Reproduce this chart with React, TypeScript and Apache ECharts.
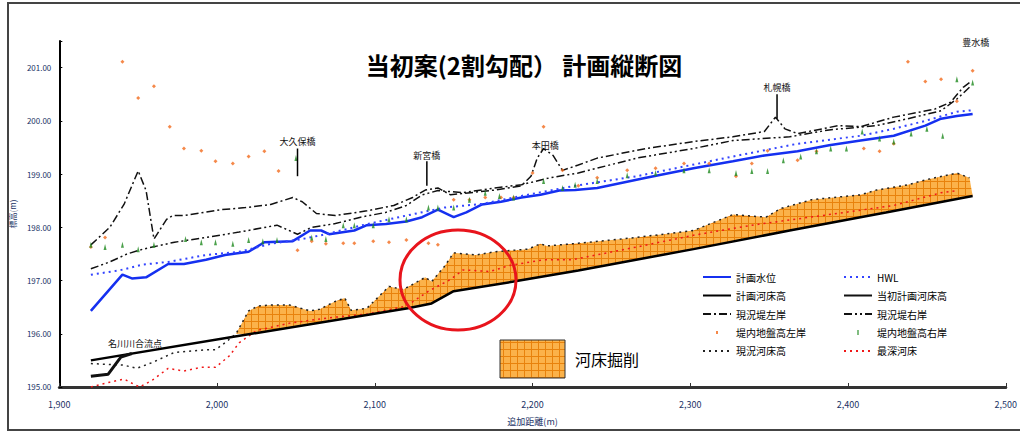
import React, { useEffect, useRef } from "react";
import * as echarts from "echarts";

// ---- Data (station m, elevation m) ----
const xTickMin = 1900;
const xTickMax = 2500;
const yTickMin = 195;
const yTickMax = 201.5;

const planWater = [
  [1920, 196.43], [1940, 197.11], [1946, 197.04], [1955, 197.06], [1969, 197.31], [1979, 197.31],
  [1993, 197.39], [2005, 197.48], [2020, 197.54], [2030, 197.72], [2048, 197.74], [2059, 197.94],
  [2066, 197.94], [2071, 197.87], [2087, 197.94], [2095, 198.04], [2107, 198.06], [2120, 198.11],
  [2130, 198.19], [2140, 198.33], [2150, 198.19], [2158, 198.28], [2168, 198.43], [2180, 198.48],
  [2193, 198.56], [2205, 198.61], [2217, 198.69], [2227, 198.7], [2241, 198.74], [2272, 198.93],
  [2302, 199.11], [2327, 199.24], [2347, 199.35], [2368, 199.43], [2388, 199.54], [2408, 199.63],
  [2429, 199.72], [2449, 199.91], [2459, 200.04], [2469, 200.09], [2479, 200.13],
];

const hwl = [
  [1920, 197.11], [1938, 197.19], [1953, 197.3], [1969, 197.35], [1993, 197.48], [2014, 197.54],
  [2034, 197.69], [2054, 197.78], [2069, 197.87], [2095, 198.06], [2120, 198.22], [2144, 198.37],
  [2168, 198.44], [2193, 198.59], [2227, 198.78], [2266, 198.96], [2327, 199.33], [2368, 199.57],
  [2408, 199.72], [2429, 199.85], [2449, 200.0], [2469, 200.17], [2479, 200.2],
];

const planBed = [
  [1920, 195.5], [2020, 195.99], [2121, 196.48], [2136, 196.57], [2150, 196.8], [2188, 196.98],
  [2229, 197.19], [2302, 197.59], [2363, 197.94], [2424, 198.28], [2479, 198.59],
];

const initialPlanBed = [
  [1920, 195.2], [1931, 195.24], [1939, 195.56], [1946, 195.63],
];

const currentBed = [
  [1920, 195.44], [1941, 195.41], [1949, 195.35], [1959, 195.46], [1973, 195.65], [1993, 195.7],
  [1999, 195.7], [2005, 195.83], [2012, 196.0], [2020, 196.43], [2026, 196.52], [2034, 196.54],
  [2046, 196.54], [2059, 196.43], [2065, 196.46], [2075, 196.61], [2081, 196.67], [2085, 196.44],
  [2095, 196.48], [2109, 196.89], [2118, 196.83], [2132, 197.06], [2136, 196.98], [2144, 197.26],
  [2150, 197.52], [2164, 197.48], [2176, 197.54], [2197, 197.59], [2205, 197.69], [2209, 197.65],
  [2229, 197.7], [2266, 197.81], [2302, 197.94], [2327, 198.24], [2348, 198.19], [2357, 198.35],
  [2377, 198.52], [2408, 198.61], [2418, 198.7], [2438, 198.8], [2449, 198.89], [2469, 199.02],
  [2477, 198.93],
];

const deepestBed = [
  [1920, 195.0], [1932, 195.09], [1941, 195.15], [1948, 195.04], [1951, 195.0], [1959, 195.13],
  [1969, 195.35], [1979, 195.3], [1990, 195.37], [1999, 195.37], [2008, 195.59], [2014, 195.83],
  [2025, 196.06], [2046, 196.2], [2071, 196.3], [2095, 196.37], [2120, 196.52], [2134, 196.8],
  [2148, 197.02], [2156, 197.2], [2173, 197.17], [2185, 197.28], [2207, 197.39], [2225, 197.39],
  [2266, 197.63], [2302, 197.85], [2339, 198.04], [2398, 198.28], [2429, 198.41], [2459, 198.65],
  [2469, 198.69],
];

const leftBank = [
  [1920, 197.67], [1932, 198.0], [1941, 198.43], [1950, 199.06], [1955, 198.69], [1960, 197.78],
  [1968, 198.15], [1972, 198.22], [1979, 198.22], [2002, 198.33], [2018, 198.37], [2034, 198.43],
  [2048, 198.56], [2054, 198.48], [2063, 198.26], [2075, 198.22], [2095, 198.31], [2112, 198.41],
  [2124, 198.56], [2132, 198.7], [2140, 198.74], [2148, 198.61], [2176, 198.7], [2193, 198.78],
  [2199, 198.96], [2203, 199.3], [2207, 199.48], [2213, 199.35], [2219, 199.07], [2229, 199.17],
  [2241, 199.3], [2272, 199.48], [2302, 199.61], [2327, 199.7], [2347, 199.8], [2354, 200.07],
  [2360, 199.85], [2368, 199.76], [2394, 199.91], [2408, 199.89], [2429, 200.07], [2455, 200.22],
  [2465, 200.35], [2473, 200.63], [2478, 200.74],
];

const rightBank = [
  [1920, 197.22], [1932, 197.35], [1943, 197.5], [1953, 197.59], [1973, 197.72], [1993, 197.81],
  [2014, 197.91], [2038, 198.04], [2051, 197.87], [2060, 198.0], [2075, 198.07], [2091, 198.19],
  [2107, 198.28], [2120, 198.41], [2130, 198.61], [2140, 198.69], [2156, 198.65], [2176, 198.74],
  [2193, 198.8], [2211, 198.93], [2229, 199.02], [2266, 199.3], [2302, 199.48], [2327, 199.63],
  [2363, 199.7], [2388, 199.83], [2418, 199.91], [2438, 200.04], [2459, 200.19], [2469, 200.41],
  [2477, 200.63],
];

const leftGround = [
  [1920, 197.63], [1929, 197.81], [1940, 201.11], [1950, 200.43], [1960, 200.65], [1970, 199.89],
  [1979, 199.48], [1990, 199.44], [1999, 199.24], [2010, 199.2], [2020, 199.33], [2030, 199.43],
  [2039, 199.06], [2051, 197.57], [2060, 197.74], [2069, 197.69], [2080, 197.7], [2087, 197.7],
  [2099, 197.74], [2109, 197.72], [2120, 197.76], [2134, 197.7], [2140, 197.67], [2150, 198.52],
  [2160, 198.52], [2170, 198.56], [2180, 198.56], [2188, 198.56], [2200, 199.02], [2207, 199.89],
  [2219, 199.07], [2229, 198.78], [2241, 198.93], [2260, 199.07], [2278, 199.11], [2296, 199.2],
  [2312, 199.2], [2329, 198.96], [2339, 199.2], [2349, 199.44], [2368, 199.26], [2380, 199.43],
  [2410, 199.48], [2420, 199.43], [2429, 199.57], [2438, 201.11], [2449, 200.74], [2459, 200.78],
  [2469, 200.37], [2479, 200.94],
];

const rightGround = [
  [1920, 197.67], [1929, 197.63], [1940, 197.67], [1950, 197.59], [1960, 197.67], [1980, 197.78],
  [1990, 197.72], [1999, 197.72], [2010, 197.69], [2020, 197.76], [2029, 197.74], [2038, 197.76],
  [2050, 199.3], [2060, 197.81], [2069, 197.78], [2080, 198.04], [2087, 198.04], [2099, 198.04],
  [2109, 198.15], [2120, 198.15], [2134, 198.37], [2140, 198.37], [2150, 198.37], [2160, 198.52],
  [2170, 198.65], [2179, 198.59], [2188, 198.56], [2207, 198.87], [2219, 198.74], [2227, 198.8],
  [2241, 198.87], [2260, 198.98], [2278, 199.02], [2296, 199.07], [2312, 199.07], [2329, 199.02],
  [2339, 199.06], [2349, 199.06], [2359, 199.26], [2370, 199.33], [2380, 199.43], [2389, 199.48],
  [2399, 199.48], [2409, 199.8], [2420, 199.67], [2429, 199.61], [2440, 199.76], [2450, 199.85],
  [2460, 199.72], [2469, 200.78], [2479, 200.72],
];

// [name, station, text elevation, stem top, stem bottom]
const landmarks: [string, number, number, number, number][] = [
  ["大久保橋", 2051, 199.61, 199.48, 198.96],
  ["新宮橋", 2133, 199.35, 199.24, 198.78],
  ["本田橋", 2208, 199.54, 0, 0],
  ["札幌橋", 2355, 200.63, 200.5, 200.04],
  ["豊水橋", 2481, 201.48, 0, 0],
  ["名川川合流点", 1948, 195.81, 0, 0],
];

const excavationStart = 2012;

const legendLeft = ["計画水位", "計画河床高", "現況堤左岸", "堤内地盤高左岸", "現況河床高"];
const legendRight = ["HWL", "当初計画河床高", "現況堤右岸", "堤内地盤高右岸", "最深河床"];
const scatterNames = ["堤内地盤高左岸", "堤内地盤高右岸"];

function makePattern() {
  const c = document.createElement("canvas");
  c.width = 7;
  c.height = 7;
  const ctx = c.getContext("2d")!;
  ctx.fillStyle = "#FBB24A";
  ctx.fillRect(0, 0, 7, 7);
  ctx.fillStyle = "#E8820C";
  ctx.fillRect(6, 0, 1, 7);
  ctx.fillRect(0, 6, 7, 1);
  return { image: c, repeat: "repeat" } as any;
}

const legendItem = (name: string) => {
  if (name === "堤内地盤高左岸") {
    return { name, icon: "path://M0,0 M28,10 M13,3.5 L15,3.5 L15,6.5 L13,6.5 Z" };
  }
  if (name === "堤内地盤高右岸") {
    return { name, icon: "path://M0,0 M28,10 M13.3,2.5 L14.7,2.5 L14.7,7.5 L13.3,7.5 Z" };
  }
  return { name, itemStyle: { opacity: 0 } };
};

export default function App() {
  const ref = useRef<HTMLDivElement>(null);
  useEffect(() => {
    if (!ref.current) return;
    const chart = echarts.init(ref.current, undefined, { renderer: "svg" });
    const pattern = makePattern();
    const legendCommon = {
      orient: "vertical" as const,
      top: 267,
      itemWidth: 28,
      itemHeight: 10,
      itemGap: 8.5,
      selectedMode: false,
      textStyle: { fontSize: 10, color: "#000", fontFamily: "Noto Sans CJK JP" },
    };
    const option: any = {
      animation: false,
      backgroundColor: "#fff",
      textStyle: { fontFamily: "Noto Sans CJK JP" },
      title: {
        text: "当初案(2割勾配） 計画縦断図",
        left: 519,
        top: 47,
        textAlign: "center",
        textStyle: { fontSize: 24, fontWeight: "bold", color: "#000", fontFamily: "Noto Sans CJK JP" },
      },
      grid: { left: 40, top: 41, width: 984, height: 351, containLabel: false },
      xAxis: {
        type: "value",
        min: xTickMin,
        max: xTickMax,
        interval: 100,
        name: "追加距離(m)",
        nameLocation: "middle",
        nameGap: 30,
        nameTextStyle: { fontSize: 9, color: "#223366" },
        axisLine: { lineStyle: { color: "#333", width: 3 } },
        axisTick: { inside: true, length: 4, lineStyle: { color: "#333" } },
        axisLabel: {
          fontSize: 9,
          color: "#223366",
          margin: 13,
          formatter: (v: number) => v.toLocaleString("en-US"),
        },
        splitLine: { show: false },
      },
      yAxis: {
        type: "value",
        min: yTickMin,
        max: yTickMax,
        interval: 1,
        name: "標高(m)",
        nameLocation: "middle",
        nameGap: 30,
        nameRotate: 90,
        nameTextStyle: { fontSize: 8, color: "#223366" },
        axisLine: { show: true, lineStyle: { color: "#000", width: 2 } },
        axisTick: { show: true, inside: true, length: 3, lineStyle: { color: "#000" } },
        axisLabel: {
          fontSize: 8,
          color: "#223366",
          margin: 8,
          formatter: (v: number) => (Number.isInteger(v) ? v.toFixed(2) : ""),
        },
        splitLine: { show: false },
      },
      legend: [
        { ...legendCommon, left: 697, data: legendLeft.map(legendItem) },
        { ...legendCommon, left: 838, data: legendRight.map(legendItem) },
      ],
      series: [
        {
          type: "custom",
          name: "河床掘削",
          z: 1,
          silent: true,
          data: [[2200, 197]],
          renderItem: (_p: any, api: any) => {
            const top = currentBed.filter((p) => p[0] >= excavationStart).map((p) => api.coord(p));
            const bottom = planBed
              .filter((p) => p[0] >= excavationStart)
              .map((p) => api.coord(p))
              .reverse();
            return {
              type: "polygon",
              shape: { points: top.concat(bottom) },
              style: { fill: pattern, stroke: "none" },
            };
          },
        },
        {
          type: "custom",
          name: "landmarks",
          z: 6,
          silent: true,
          data: landmarks.map((l, i) => [l[1], l[2], i]),
          renderItem: (params: any, api: any) => {
            const l = landmarks[params.dataIndex];
            const pt = api.coord([l[1], l[2]]);
            const children: any[] = [
              {
                type: "text",
                x: pt[0],
                y: pt[1],
                style: {
                  text: l[0],
                  fontSize: 9,
                  fill: "#111",
                  align: "center",
                  verticalAlign: "middle",
                  fontFamily: "Noto Sans CJK JP",
                },
              },
            ];
            if (l[3] > 0) {
              const a = api.coord([l[1], l[3]]);
              const b = api.coord([l[1], l[4]]);
              children.push({
                type: "line",
                shape: { x1: a[0], y1: a[1], x2: b[0], y2: b[1] },
                style: { stroke: "#000", lineWidth: 1.5 },
              });
            }
            return { type: "group", children };
          },
        },
        {
          type: "line", name: "計画水位", data: planWater, symbol: "none", z: 4,
          lineStyle: { color: "#1530F0", width: 2.5 }, itemStyle: { color: "#1530F0" },
        },
        {
          type: "line", name: "HWL", data: hwl, symbol: "none", z: 4,
          lineStyle: { color: "#3344FF", width: 2, type: [2, 4] }, itemStyle: { color: "#3344FF" },
        },
        {
          type: "line", name: "計画河床高", data: planBed, symbol: "none", z: 4,
          lineStyle: { color: "#000", width: 2.5 }, itemStyle: { color: "#000" },
        },
        {
          type: "line", name: "当初計画河床高", data: initialPlanBed, symbol: "none", z: 4,
          lineStyle: { color: "#111", width: 3 }, itemStyle: { color: "#111" },
        },
        {
          type: "line", name: "現況堤左岸", data: leftBank, symbol: "none", z: 3,
          lineStyle: { color: "#111", width: 1.5, type: [8, 3, 2, 3] }, itemStyle: { color: "#111" },
        },
        {
          type: "line", name: "現況堤右岸", data: rightBank, symbol: "none", z: 3,
          lineStyle: { color: "#111", width: 1.5, type: [8, 3, 2, 3, 2, 3] }, itemStyle: { color: "#111" },
        },
        {
          type: "scatter", name: "堤内地盤高左岸", data: leftGround, symbol: "diamond", symbolSize: 4, z: 5,
          itemStyle: { color: "#F26A1B" },
        },
        {
          type: "scatter", name: "堤内地盤高右岸", data: rightGround, symbol: "triangle", symbolSize: [3, 6], z: 5,
          itemStyle: { color: "#1E8A1E" },
        },
        {
          type: "line", name: "現況河床高", data: currentBed, symbol: "none", z: 3,
          lineStyle: { color: "#222", width: 1.5, type: [2, 4] }, itemStyle: { color: "#222" },
        },
        {
          type: "line", name: "最深河床", data: deepestBed, symbol: "none", z: 3,
          lineStyle: { color: "#F01818", width: 1.5, type: [2, 4] }, itemStyle: { color: "#F01818" },
        },
      ],
      graphic: [
        {
          type: "rect",
          shape: { x: 8, y: 3, width: 1030, height: 427 },
          style: { fill: "none", stroke: "#444", lineWidth: 2 },
          silent: true,
          z: 100,
        },
        {
          type: "ellipse",
          shape: { cx: 458, cy: 280, rx: 58, ry: 50 },
          style: { fill: "none", stroke: "#E8141C", lineWidth: 3 },
          silent: true,
          z: 100,
        },
        {
          type: "rect",
          shape: { x: 500, y: 340, width: 65, height: 38 },
          style: { fill: pattern, stroke: "#333", lineWidth: 1 },
          silent: true,
          z: 100,
        },
        {
          type: "text",
          x: 575,
          y: 359,
          style: {
            text: "河床掘削",
            fontSize: 16,
            fill: "#000",
            verticalAlign: "middle",
            fontFamily: "Noto Sans CJK JP",
          },
          silent: true,
          z: 100,
        },
      ],
    };
    chart.setOption(option);
    return () => chart.dispose();
  }, []);
  return (
    <div
      ref={ref}
      style={{ position: "fixed", left: 0, top: 0, width: 1020, height: 431, background: "#fff" }}
    />
  );
}
